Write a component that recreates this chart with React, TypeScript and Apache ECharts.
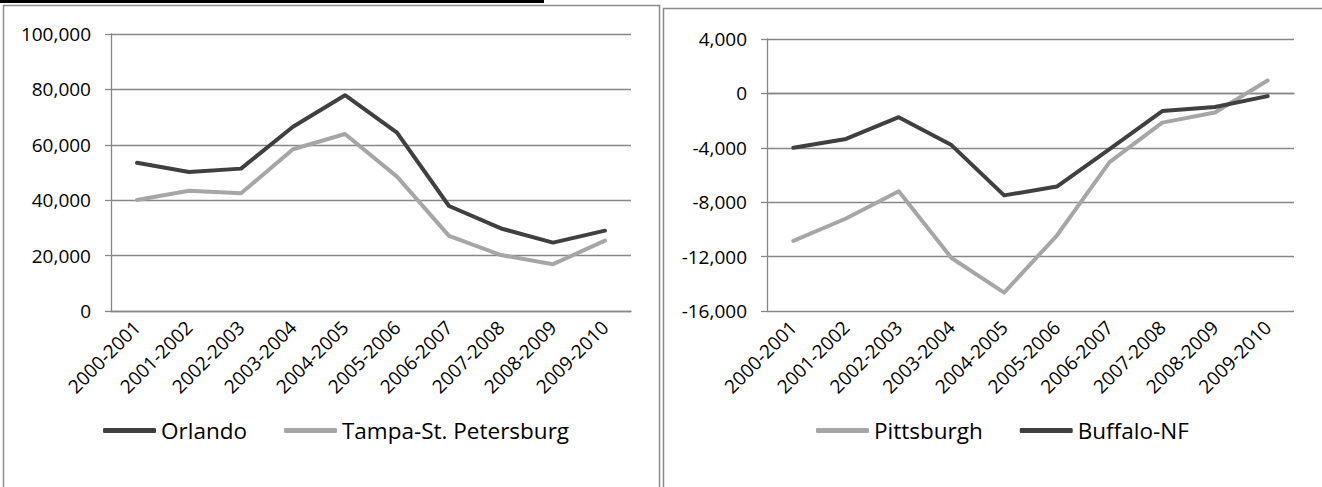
import React, { useEffect, useRef } from "react";
import * as echarts from "echarts";

const categories = [
  "2000-2001", "2001-2002", "2002-2003", "2003-2004", "2004-2005",
  "2005-2006", "2006-2007", "2007-2008", "2008-2009", "2009-2010",
];
const orlando = [53500, 50200, 51400, 66500, 77900, 64400, 37900, 29800, 24700, 29000];
const tampa = [40100, 43400, 42500, 58400, 63900, 48500, 27100, 20200, 16900, 25400];
const pittsburgh = [-10850, -9200, -7200, -12100, -14650, -10450, -5050, -2150, -1400, 950];
const buffalo = [-4000, -3350, -1750, -3800, -7500, -6850, -4100, -1300, -1000, -200];

const DARK = "#404040";
const LIGHT = "#a6a6a6";
const GRID = "#878787";
const FONT = "Open Sans";

const fmt = (v: number) => v.toLocaleString("en-US");

export default function App() {
  const ref = useRef<HTMLDivElement>(null);
  useEffect(() => {
    document.body.style.margin = "0";
    const chart = echarts.init(ref.current!, null, { renderer: "svg" });
    const xAxisBase = (gridIndex: number) => ({
      type: "category" as const,
      gridIndex,
      data: categories,
      boundaryGap: true,
      axisLine: { show: true, lineStyle: { color: GRID, width: 1.3 } },
      axisTick: { show: false },
      axisLabel: {
        rotate: 45,
        interval: 0,
        margin: 13,
        color: "#000",
        fontFamily: FONT,
        fontSize: 19,
      },
    });
    const yAxisBase = (gridIndex: number, min: number, max: number, interval: number) => ({
      type: "value" as const,
      gridIndex,
      min,
      max,
      interval,
      axisLine: { show: true, lineStyle: { color: GRID, width: 1.3 } },
      axisTick: { show: true, length: 6, lineStyle: { color: GRID, width: 1.3 } },
      splitLine: { show: true, lineStyle: { color: GRID, width: 1.3 } },
      axisLabel: {
        margin: 20,
        color: "#000",
        fontFamily: FONT,
        fontSize: 19,
        formatter: (v: number) => fmt(v),
      },
    });
    const lineSeries = (name: string, data: number[], color: string, idx: number) => ({
      type: "line" as const,
      name,
      data,
      xAxisIndex: idx,
      yAxisIndex: idx,
      showSymbol: false,
      symbol: "none",
      lineStyle: { color, width: 4, cap: "round", join: "round" },
      itemStyle: { color },
    });
    const legendBase = (left: number, data: string[]) => ({
      left,
      top: 414,
      data,
      icon: "roundRect",
      itemWidth: 53,
      itemHeight: 5,
      itemGap: 37,
      textStyle: { color: "#000", fontFamily: FONT, fontSize: 22.5 },
    });
    chart.setOption({
      animation: false,
      backgroundColor: "#fff",
      grid: [
        { left: 111, top: 34, width: 520, height: 277 },
        { left: 767, top: 39, width: 527, height: 272 },
      ],
      xAxis: [xAxisBase(0), xAxisBase(1)],
      yAxis: [yAxisBase(0, 0, 100000, 20000), yAxisBase(1, -16000, 4000, 4000)],
      legend: [
        legendBase(98, ["Orlando", "Tampa-St. Petersburg"]),
        legendBase(811, ["Pittsburgh", "Buffalo-NF"]),
      ],
      series: [
        lineSeries("Orlando", orlando, DARK, 0),
        lineSeries("Tampa-St. Petersburg", tampa, LIGHT, 0),
        lineSeries("Pittsburgh", pittsburgh, LIGHT, 1),
        lineSeries("Buffalo-NF", buffalo, DARK, 1),
      ],
      graphic: [
        { type: "rect", shape: { x: 0, y: 0, width: 544, height: 3 }, style: { fill: "#000" } },
        {
          type: "rect",
          shape: { x: 3.5, y: 5.5, width: 656, height: 520 },
          style: { fill: "none", stroke: "#8c8c8c", lineWidth: 1.5 },
          silent: true,
        },
        {
          type: "rect",
          shape: { x: 663.5, y: 8.5, width: 700, height: 520 },
          style: { fill: "none", stroke: "#8c8c8c", lineWidth: 1.5 },
          silent: true,
        },
      ],
    });
    return () => chart.dispose();
  }, []);
  return <div ref={ref} style={{ width: 1322, height: 487 }} />;
}
